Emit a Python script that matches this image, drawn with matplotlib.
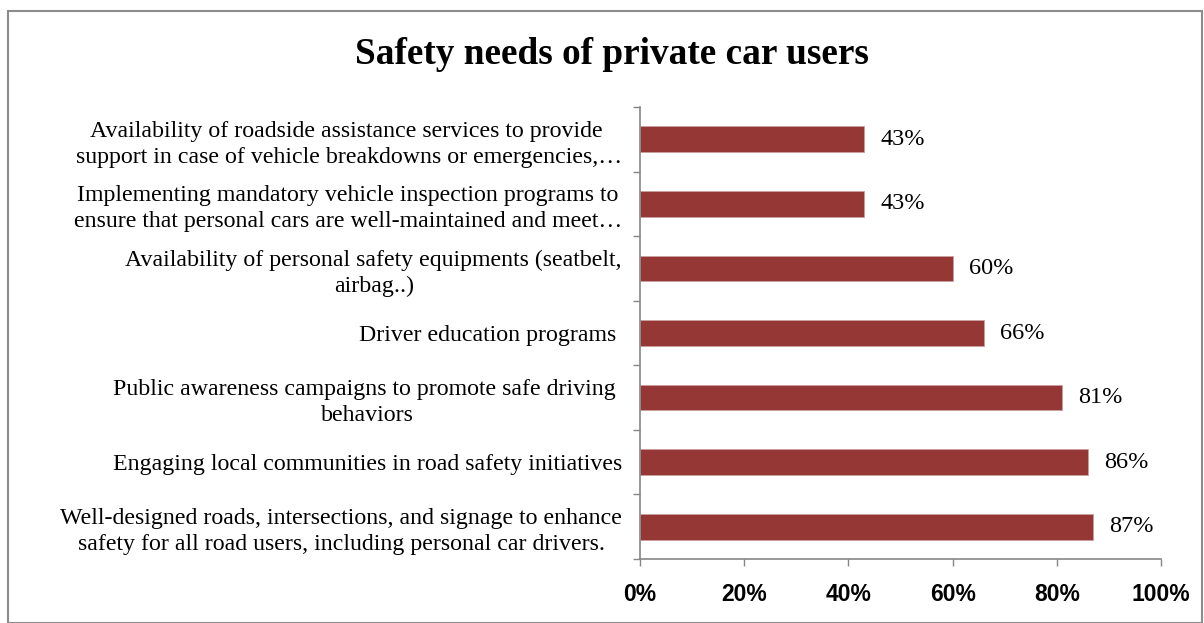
import matplotlib.pyplot as plt
import matplotlib.patches as patches
import numpy as np

# Survey answers, listed top to bottom as in the chart
categories = [
    "Availability of roadside assistance services to provide \nsupport in case of vehicle breakdowns or emergencies,\u2026",
    "Implementing mandatory vehicle inspection programs to\nensure that personal cars are well-maintained and meet\u2026",
    "Availability of personal safety equipments (seatbelt,\nairbag..)",
    "Driver education programs ",
    "Public awareness campaigns to promote safe driving \nbehaviors",
    "Engaging local communities in road safety initiatives",
    "Well-designed roads, intersections, and signage to enhance\nsafety for all road users, including personal car drivers.",
]
shares = [43, 43, 60, 66, 81, 86, 87]
xticks = [0, 20, 40, 60, 80, 100]
xtick_labels = ["0%", "20%", "40%", "60%", "80%", "100%"]

W, H = 1204, 623
fig = plt.figure(figsize=(W / 100, H / 100), dpi=100)
fig.patch.set_facecolor("white")

# chart frame like the Excel chart area
fig.patches.append(patches.Rectangle((8 / W, 0), (W - 10) / W, (H - 11) / H,
                                     transform=fig.transFigure, fill=False,
                                     edgecolor="#8c8c8c", linewidth=1.5))

ax = fig.add_axes([640 / W, 1 - 559 / H, 521 / W, 452 / H])

ypos = np.arange(len(categories))
ax.barh(ypos, shares, height=0.40, color="#953735", edgecolor="#c9a09f", linewidth=0.6)

ax.set_ylim(len(categories) - 0.5, -0.5)
ax.set_xlim(0, 100)

# value labels
for y, v in zip(ypos, shares):
    ax.annotate(f"{v}%", xy=(v, y), xytext=(11.5, 0), textcoords="offset points",
                va="center", ha="left", fontsize=17.5, family="Liberation Serif")

ax.set_xticks(xticks)
ax.set_xticklabels(xtick_labels, fontsize=16.5, fontweight="bold", family="Liberation Sans")
ax.tick_params(axis="x", direction="out", length=5, width=1, color="#868686", pad=12.5)

ax.set_yticks(ypos)
ax.set_yticklabels(categories, fontsize=17.2, family="Liberation Serif",
                   multialignment="center", linespacing=1.3)
ax.set_yticks(np.arange(-0.5, len(categories)), minor=True)
ax.tick_params(axis="y", which="major", length=0, pad=13)
ax.tick_params(axis="y", which="minor", direction="out", length=5, width=1, color="#868686")

for s in ["top", "right"]:
    ax.spines[s].set_visible(False)
for s in ["left", "bottom"]:
    ax.spines[s].set_color("#868686")
    ax.spines[s].set_linewidth(1.2)

fig.text(611.5 / W, 1 - 55 / H, "Safety needs of private car users", ha="center", va="center",
         fontsize=26.8, fontweight="bold", family="Liberation Serif")

fig.savefig("out.png", dpi=100)
